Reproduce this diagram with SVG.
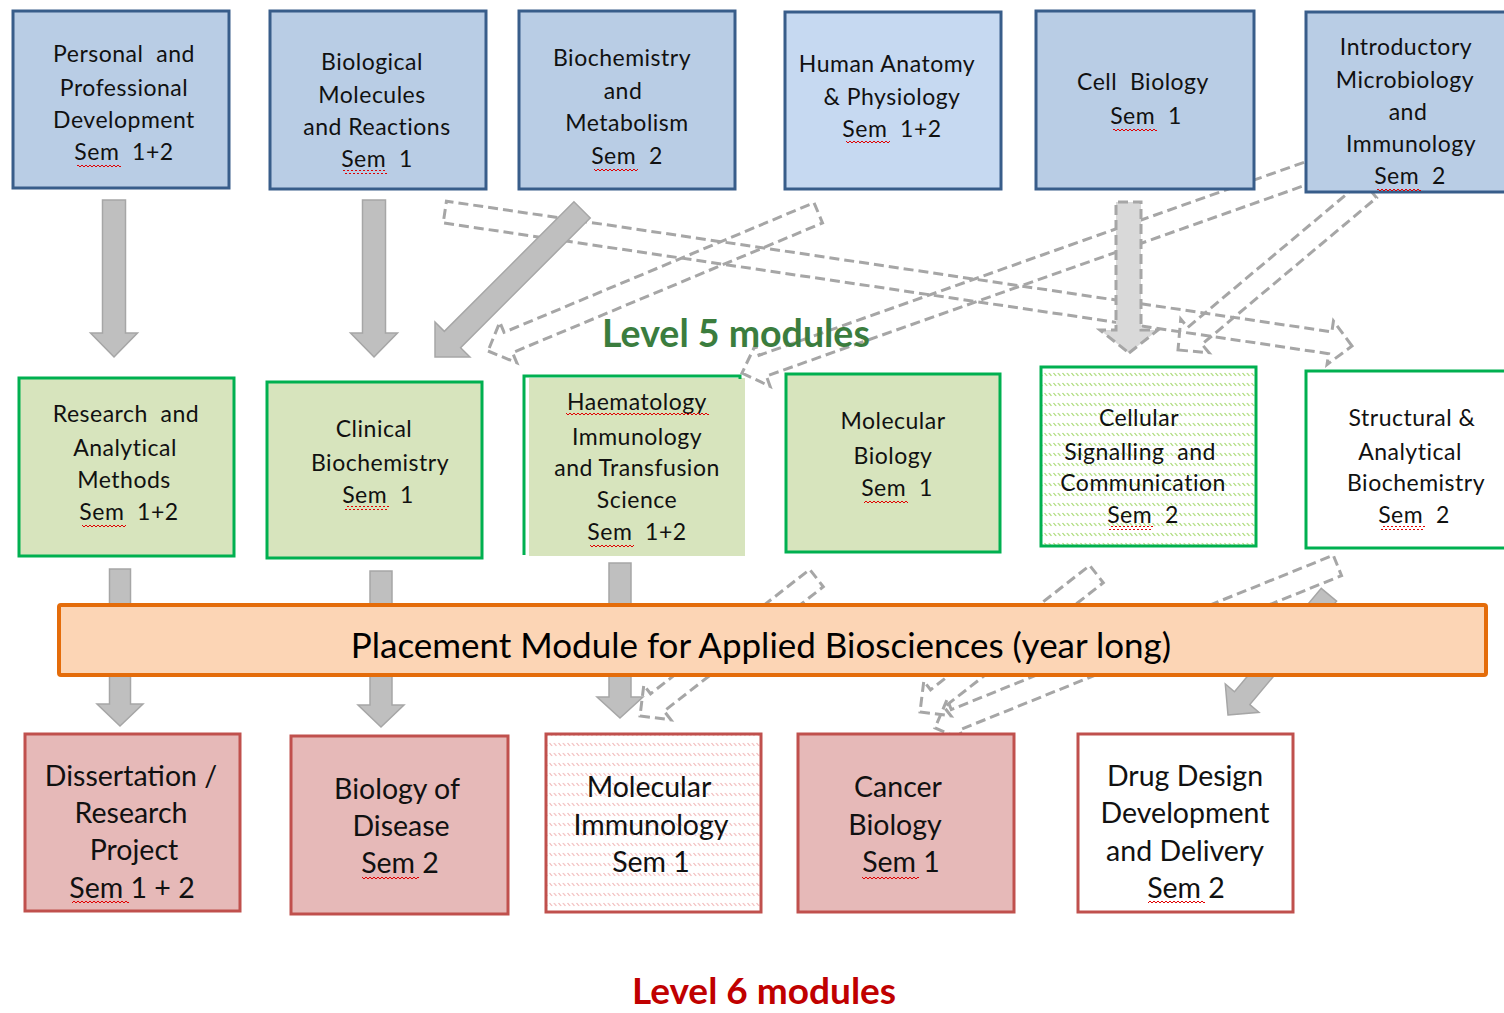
<svg xmlns="http://www.w3.org/2000/svg" width="1504" height="1013" viewBox="0 0 1504 1013">
<defs>
<pattern id="hatchG" width="4.5" height="10" patternUnits="userSpaceOnUse">
<line x1="0.5" y1="3" x2="3" y2="6" stroke="#92d050" stroke-width="1"/>
</pattern>
<pattern id="hatchR" width="4.5" height="10" patternUnits="userSpaceOnUse">
<line x1="0.5" y1="3" x2="3" y2="6" stroke="#eeaaaa" stroke-width="1"/>
</pattern>
<pattern id="squig" width="4" height="4" patternUnits="userSpaceOnUse">
<polyline points="0,3 2,1 4,3" fill="none" stroke="#e00000" stroke-width="1"/>
</pattern>
</defs>
<style>
.blue{fill:#b9cde5;stroke:#385d8a;stroke-width:3}
.green{fill:#d7e4bd;stroke:#00b050;stroke-width:3}
.red{fill:#e6b9b8;stroke:#c0504d;stroke-width:3}
.t{font-family:Lato,"Noto Sans",sans-serif;font-size:23px;letter-spacing:0.5px;fill:#111;text-anchor:middle;white-space:pre}
.t6{font-family:Lato,"Noto Sans",sans-serif;font-size:28.5px;fill:#111;text-anchor:middle}
.solid{fill:#bfbfbf;stroke:#a6a6a6;stroke-width:1.5}
.dash{fill:none;stroke:#a6a6a6;stroke-width:3;stroke-dasharray:10 5}
.dashf{fill:#d9d9d9;stroke:#a6a6a6;stroke-width:3;stroke-dasharray:10 5}
.sq{fill:url(#squig)}
</style>

<g id="connectors">
<polygon class="dash" transform="translate(1352,346) rotate(-81.6)" points="0,0 22,-22 11,-22 11,-917 -11,-917 -11,-22 -22,-22"/>
<polygon class="dash" transform="translate(488,351) rotate(67.3)" points="0,0 22,-22 11,-22 11,-358 -11,-358 -11,-22 -22,-22"/>
<polygon class="dash" transform="translate(742,373) rotate(70.5)" points="0,0 22,-22 11,-22 11,-624 -11,-624 -11,-22 -22,-22"/>
<polygon class="dash" transform="translate(1178,350) rotate(50)" points="0,0 22,-22 11,-22 11,-250 -11,-250 -11,-22 -22,-22"/>
<polygon class="dashf" points="1129,353 1158,330 1141,330 1141,202 1116,202 1116,330 1100,330"/>
<polygon class="dash" transform="translate(640,716) rotate(52)" points="0,0 22,-22 11,-22 11,-224 -11,-224 -11,-22 -22,-22"/>
<polygon class="dash" transform="translate(920,712) rotate(52)" points="0,0 22,-22 11,-22 11,-224 -11,-224 -11,-22 -22,-22"/>
<polygon class="dash" transform="translate(935,728) rotate(68)" points="0,0 22,-22 11,-22 11,-434 -11,-434 -11,-22 -22,-22"/>
<polygon class="solid" points="114,357 137.5,333 125.5,333 125.5,200 102.5,200 102.5,333 90.5,333"/>
<polygon class="solid" points="374,357 397.5,333 385.5,333 385.5,200 362.5,200 362.5,333 350.5,333"/>
<polygon class="solid" transform="translate(435,357) rotate(45)" points="0,0 24.7,-24.7 11.5,-24.7 11.5,-208 -11.5,-208 -11.5,-24.7 -24.7,-24.7"/>
<polygon class="solid" points="120,726 143,704 130.5,704 130.5,569 109.5,569 109.5,704 97,704"/>
<polygon class="solid" points="381,727 404,705 392,705 392,571 370,571 370,705 358,705"/>
<polygon class="solid" points="620,718 643,697 631,697 631,563 609,563 609,697 597,697"/>
<polygon class="solid" transform="translate(1228,715) rotate(40)" points="0,0 22,-22 10,-22 10,-157 -10,-157 -10,-22 -22,-22"/>
</g>

<g id="ppd">
<rect class="blue" x="13" y="11" width="216" height="177"/>
<text class="t" x="124" y="62">Personal  and</text>
<text class="t" x="124" y="96">Professional</text>
<text class="t" x="124" y="128">Development</text>
<text class="t" x="124" y="160">Sem  1+2</text>
<rect class="sq" x="77" y="163" width="44" height="4"/>
</g>
<g id="biomol">
<rect class="blue" x="270" y="11" width="216" height="178"/>
<text class="t" x="372" y="70">Biological</text>
<text class="t" x="372" y="103">Molecules</text>
<text class="t" x="377" y="135">and Reactions</text>
<text class="t" x="377" y="167">Sem  1</text>
<rect class="sq" x="343" y="170" width="44" height="4"/>
</g>
<g id="biochem">
<rect class="blue" x="519" y="11" width="216" height="178"/>
<text class="t" x="622" y="66">Biochemistry</text>
<text class="t" x="623" y="99">and</text>
<text class="t" x="627" y="131">Metabolism</text>
<text class="t" x="627" y="164">Sem  2</text>
<rect class="sq" x="594" y="167" width="44" height="4"/>
</g>
<g id="anatomy">
<rect x="785" y="12" width="216" height="177" fill="#c6d9f1" stroke="#385d8a" stroke-width="3"/>
<text class="t" x="887" y="72">Human Anatomy</text>
<text class="t" x="892" y="105">&amp; Physiology</text>
<text class="t" x="892" y="137">Sem  1+2</text>
<rect class="sq" x="846" y="140" width="44" height="4"/>
</g>
<g id="cellbio">
<rect class="blue" x="1036" y="11" width="218" height="178"/>
<text class="t" x="1143" y="90">Cell  Biology</text>
<text class="t" x="1146" y="124">Sem  1</text>
<rect class="sq" x="1113" y="127" width="44" height="4"/>
</g>
<g id="micro">
<rect class="blue" x="1306" y="12" width="210" height="180"/>
<text class="t" x="1406" y="55">Introductory</text>
<text class="t" x="1405" y="88">Microbiology</text>
<text class="t" x="1408" y="120">and</text>
<text class="t" x="1411" y="152">Immunology</text>
<text class="t" x="1410" y="184">Sem  2</text>
<rect class="sq" x="1377" y="187" width="44" height="4"/>
</g>

<g id="research">
<rect class="green" x="19" y="378" width="215" height="178"/>
<text class="t" x="126" y="422">Research  and</text>
<text class="t" x="125" y="456">Analytical</text>
<text class="t" x="124" y="488">Methods</text>
<text class="t" x="129" y="520">Sem  1+2</text>
<rect class="sq" x="82" y="523" width="44" height="4"/>
</g>
<g id="clinical">
<rect class="green" x="267" y="382" width="215" height="176"/>
<text class="t" x="374" y="437">Clinical</text>
<text class="t" x="380" y="471">Biochemistry</text>
<text class="t" x="378" y="503">Sem  1</text>
<rect class="sq" x="345" y="506" width="44" height="4"/>
</g>
<g id="haem">
<rect x="529" y="378" width="216" height="178" fill="#d7e4bd"/>
<polyline points="740,379 740,376 524,376 524,555" fill="none" stroke="#00b050" stroke-width="3"/>
<text class="t" x="637" y="410">Haematology</text>
<text class="t" x="637" y="445">Immunology</text>
<text class="t" x="637" y="476">and Transfusion</text>
<text class="t" x="637" y="508">Science</text>
<text class="t" x="637" y="540">Sem  1+2</text>
<rect class="sq" x="566" y="413" width="143" height="4"/>
<rect class="sq" x="590" y="543" width="44" height="4"/>
</g>
<g id="molbio">
<rect class="green" x="786" y="374" width="214" height="178"/>
<text class="t" x="893" y="429">Molecular</text>
<text class="t" x="893" y="464">Biology</text>
<text class="t" x="897" y="496">Sem  1</text>
<rect class="sq" x="864" y="499" width="44" height="4"/>
</g>
<g id="cellsig">
<rect x="1041" y="367" width="215" height="179" fill="#fff"/>
<rect x="1041" y="367" width="215" height="179" fill="url(#hatchG)" stroke="#00b050" stroke-width="3"/>
<text class="t" x="1139" y="426">Cellular</text>
<text class="t" x="1140" y="460">Signalling  and</text>
<text class="t" x="1143" y="491">Communication</text>
<text class="t" x="1143" y="523">Sem  2</text>
<rect class="sq" x="1109" y="526" width="44" height="4"/>
</g>
<g id="structural">
<rect x="1306" y="371" width="210" height="177" fill="#fff" stroke="#00b050" stroke-width="3"/>
<text class="t" x="1412" y="426">Structural &amp;</text>
<text class="t" x="1410" y="460">Analytical</text>
<text class="t" x="1416" y="491">Biochemistry</text>
<text class="t" x="1414" y="523">Sem  2</text>
<rect class="sq" x="1381" y="526" width="44" height="4"/>
</g>

<g id="placement">
<rect x="59" y="605" width="1427" height="70" rx="2" fill="#fcd5b5" stroke="#e46c0a" stroke-width="4"/>
<text x="761" y="658" font-family="Lato,'Noto Sans',sans-serif" font-size="35" fill="#000" text-anchor="middle">Placement Module for Applied Biosciences (year long)</text>
</g>

<g id="dissertation">
<rect class="red" x="25" y="734" width="215" height="177"/>
<text class="t6" x="131" y="786">Dissertation /</text>
<text class="t6" x="131" y="823">Research</text>
<text class="t6" x="134" y="860">Project</text>
<text class="t6" x="132" y="898">Sem 1 + 2</text>
<rect class="sq" x="72" y="901" width="57" height="4"/>
</g>
<g id="disease">
<rect class="red" x="291" y="736" width="217" height="178"/>
<text class="t6" x="397" y="799">Biology of</text>
<text class="t6" x="401" y="836">Disease</text>
<text class="t6" x="400" y="873">Sem 2</text>
<rect class="sq" x="362" y="876" width="57" height="4"/>
</g>
<g id="molimm">
<rect x="546" y="734" width="215" height="178" fill="#fff"/>
<rect x="546" y="734" width="215" height="178" fill="url(#hatchR)" stroke="#c0504d" stroke-width="3"/>
<text class="t6" x="649" y="797">Molecular</text>
<text class="t6" x="651" y="835">Immunology</text>
<text class="t6" x="651" y="872">Sem 1</text>
</g>
<g id="cancer">
<rect class="red" x="798" y="734" width="216" height="178"/>
<text class="t6" x="898" y="797">Cancer</text>
<text class="t6" x="895" y="835">Biology</text>
<text class="t6" x="901" y="872">Sem 1</text>
<rect class="sq" x="862" y="875" width="57" height="4"/>
</g>
<g id="drug">
<rect x="1078" y="734" width="215" height="178" fill="#fff" stroke="#c0504d" stroke-width="3"/>
<text class="t6" x="1185" y="786">Drug Design</text>
<text class="t6" x="1185" y="823">Development</text>
<text class="t6" x="1185" y="861">and Delivery</text>
<text class="t6" x="1186" y="898">Sem 2</text>
<rect class="sq" x="1148" y="901" width="57" height="4"/>
</g>

<g id="labels">
<text x="736" y="347" font-family="Lato,'Noto Sans',sans-serif" font-weight="bold" font-size="37.5" fill="#3b7d3e" text-anchor="middle">Level 5 modules</text>
<text x="764" y="1004" font-family="Lato,'Noto Sans',sans-serif" font-weight="bold" font-size="37" fill="#c00000" text-anchor="middle">Level 6 modules</text>
</g>
</svg>
